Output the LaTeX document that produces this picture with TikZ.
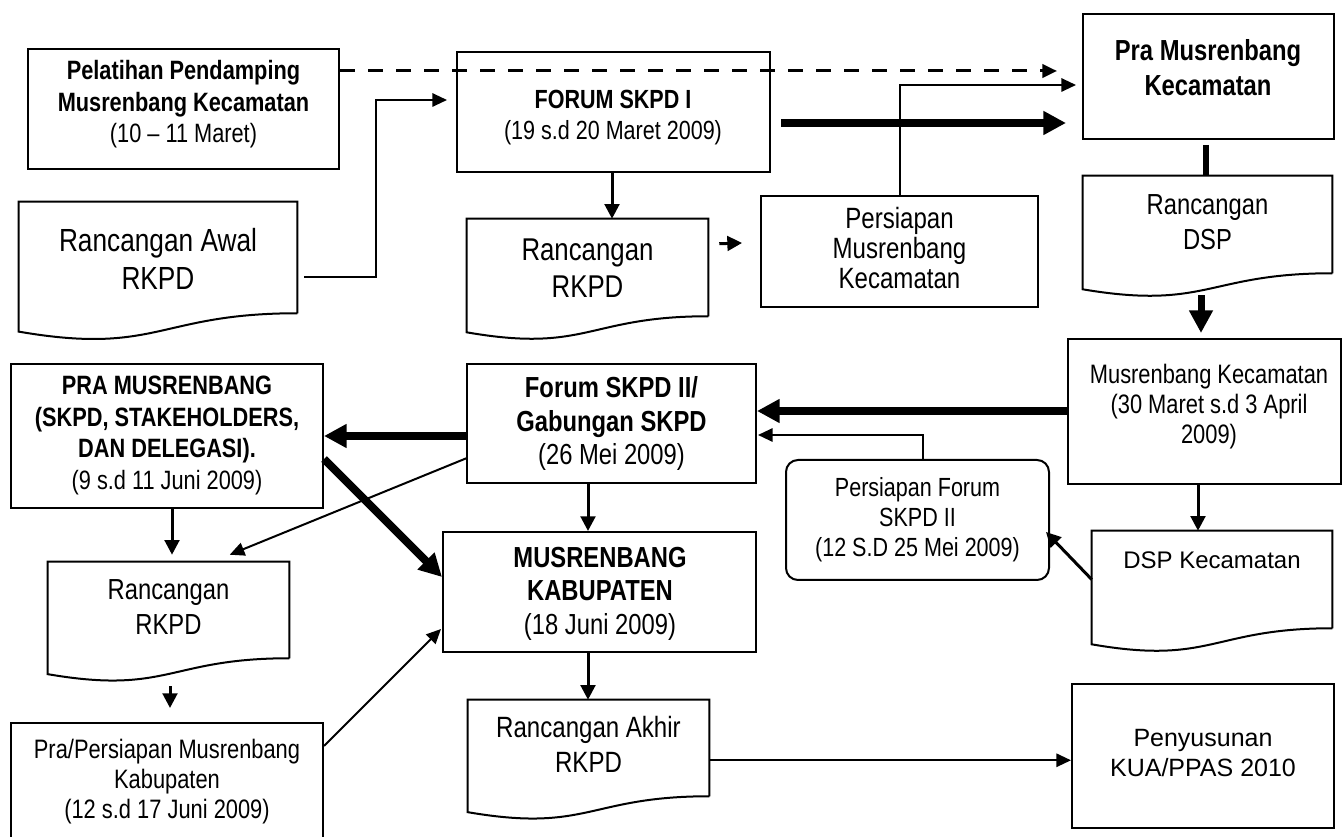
\documentclass[tikz,border=0pt]{standalone}
\usepackage{fontspec}
\setmainfont{Liberation Sans}[FakeStretch=0.82]
\newfontfamily\widefont{Liberation Sans}
\usetikzlibrary{arrows.meta,calc,fit}
\newcommand\fsz[2]{\fontsize{#1pt}{#2pt}\selectfont}
\newcommand\docpath[1]{%
  \draw[shapeline] (#1.south east) -- (#1.north east) -- (#1.north west)
    -- ($(#1.south west)!-0.1646!(#1.north west)$)
    .. controls ($(#1.south)!-0.380!(#1.north)$) and (#1.south) .. (#1.south east);}
\begin{document}
\begin{tikzpicture}[x=0.75pt,y=-0.75pt,
  shapeline/.style={line width=1.5pt,line join=miter},
  boxshape/.style={draw,line width=1.5pt,inner sep=0pt,rectangle},
  docshape/.style={inner sep=0pt,rectangle},
  txt/.style={inner sep=0pt,align=center},
  thin/.style={line width=1.5pt,-{Triangle[length=11pt,width=10pt]}},
  medium/.style={line width=2.25pt,-{Triangle[length=11pt,width=11pt]}},
  heavy/.style={line width=6pt,-{Triangle[length=17pt,width=17pt]}}]
\useasboundingbox (0,0) rectangle (1343,837);
% ---------- boxes ----------
\node[boxshape,fit={(28,49) (339,169)}] (pel) {};
\node[boxshape,fit={(457,52) (770,172)}] (forum1) {};
\node[boxshape,fit={(1083,14) (1334,139)}] (praK) {};
\node[boxshape,fit={(761,196) (1038,307)}] (persM) {};
\node[boxshape,fit={(1068,339) (1341,484)}] (musK) {};
\node[boxshape,fit={(467,364) (756,483)}] (forum2) {};
\node[boxshape,fit={(11,364) (323,508)}] (praMus) {};
\node[boxshape,rounded corners=9pt,fit={(786,460) (1049,580)}] (persF) {};
\node[boxshape,fit={(443,532) (756,652)}] (musKab) {};
\node[boxshape,fit={(11,723) (323,850)}] (praPers) {};
\node[boxshape,fit={(1072,684) (1334,828)}] (peny) {};
% ---------- documents ----------
\node[docshape,fit={(19,202) (297,313)}] (rAwal) {};
\node[docshape,fit={(467,219) (708,316)}] (rRKPD) {};
\node[docshape,fit={(1083,176) (1332,273)}] (rDSP) {};
\node[docshape,fit={(1092,531) (1332,628)}] (dspK) {};
\node[docshape,fit={(48,562) (289,658)}] (rLeft) {};
\node[docshape,fit={(468,700) (709,796)}] (rAkhir) {};
\docpath{rAwal}
\docpath{rRKPD}
\docpath{rDSP}
\docpath{dspK}
\docpath{rLeft}
\docpath{rAkhir}
% ---------- texts ----------
\node[txt,font=\fsz{19.9}{23.6}] (pelT) at (183.5,104.5) {\textbf{Pelatihan Pendamping}\\\textbf{Musrenbang Kecamatan}\\(10 – 11 Maret)};
\node[txt,font=\fsz{19.7}{23.25}] (forum1T) at (613,117.5) {\textbf{FORUM SKPD I}\\(19 s.d 20 Maret 2009)};
\node[txt,font=\fsz{21.75}{26.25}] (praKT) at (1208,67.5) {\textbf{Pra Musrenbang}\\\textbf{Kecamatan}};
\node[txt,font=\fsz{22}{22.5}] (persMT) at (899.5,248) {Persiapan\\Musrenbang\\Kecamatan};
\node[txt,font=\fsz{20}{22.5}] (musKT) at (1209,407) {Musrenbang Kecamatan\\(30 Maret s.d 3 April\\2009)};
\node[txt,font=\fsz{21.75}{25}] (forum2T) at (611.5,423.5) {\textbf{Forum SKPD II/}\\\textbf{Gabungan SKPD}\\(26 Mei 2009)};
\node[txt,font=\fsz{19.9}{23.8}] (praMusT) at (167,435.5) {\textbf{PRA MUSRENBANG}\\\textbf{(SKPD, STAKEHOLDERS,}\\\textbf{DAN DELEGASI).}\\(9 s.d 11 Juni 2009)};
\node[txt,font=\fsz{19.7}{22.5}] (persFT) at (917.5,520) {Persiapan Forum\\SKPD II\\(12 S.D 25 Mei 2009)};
\node[txt,font=\fsz{21.75}{25.1}] (musKabT) at (600,593.5) {\textbf{MUSRENBANG}\\\textbf{KABUPATEN}\\(18 Juni 2009)};
\node[txt,font=\fsz{20}{22.5}] (praPersT) at (167,782) {Pra/Persiapan Musrenbang\\Kabupaten\\(12 s.d 17 Juni 2009)};
\node[txt,font=\widefont\fsz{18.75}{22.5}] (penyT) at (1203,753) {Penyusunan\\KUA/PPAS 2010};
\node[txt,font=\fsz{24}{28.5}] (rAwalT) at (158,259) {Rancangan Awal\\RKPD};
\node[txt,font=\fsz{23.6}{27.75}] (rRKPDT) at (587.5,268.5) {Rancangan\\RKPD};
\node[txt,font=\fsz{21.75}{26.25}] (rDSPT) at (1207.5,222.5) {Rancangan\\DSP};
\node[txt,font=\widefont\fsz{18}{22}] (dspKT) at (1212,560) {DSP Kecamatan};
\node[txt,font=\fsz{21.75}{26.25}] (rLeftT) at (168.5,607.5) {Rancangan\\RKPD};
\node[txt,font=\fsz{22}{26.25}] (rAkhirT) at (588.5,744.5) {Rancangan Akhir\\RKPD};
% ---------- connectors ----------
% dashed
\coordinate (dA) at ($(pel.north east)+(0,23)$);
\coordinate (dB) at ($(praK.north west)+(-25,58)$);
\draw[line width=2.25pt,dash pattern=on 11.25pt off 9.75pt,-{Triangle[length=11pt,width=10pt]}] (dA) -- (dB);
% Rancangan Awal -> Forum I
\coordinate (bA) at ($(rAwal.south east)+(7,-36)$);
\coordinate (bT) at ($(forum1.north west)+(-80,49)$);
\coordinate (bB) at ($(forum1.north west)+(-9,49)$);
\draw[thin] (bA) -| (bT) -- (bB);
% Forum I -> Rancangan RKPD
\coordinate (cA) at ($(forum1.south)+(-1.5,0)$);
\draw[medium] (cA) -- (cA |- rRKPD.north);
% small arrow Rancangan RKPD -> Persiapan
\coordinate (eA) at ($(rRKPD.north east)+(11,25)$);
\coordinate (eB) at ($(persM.north west)+(-18,48)$);
\draw[medium] (eA) -- (eB);
% Persiapan -> Pra Musrenbang Kecamatan
\coordinate (fB) at ($(praK.north west)+(-6,72)$);
\draw[thin] (persM.north) |- (fB);
% heavy Forum I -> Pra Musrenbang Kecamatan
\coordinate (gA) at ($(forum1.north east)+(10,72)$);
\coordinate (gB) at ($(praK.north west)+(-16,110)$);
\draw[heavy] (gA) -- (gB);
% Pra Musrenbang Kecamatan -> Rancangan DSP (no head)
\coordinate (hA) at ($(praK.south)+(-2.5,5)$);
\draw[line width=4.5pt] (hA) -- (hA |- rDSP.north);
% Rancangan DSP -> Musrenbang Kecamatan
\coordinate (iA) at ($(rDSP.south)+(-6.5,22)$);
\coordinate (iB) at ($(iA |- musK.north)+(0,-5)$);
\draw[line width=5.25pt,-{Triangle[length=17pt,width=17pt]}] (iA) -- (iB);
% heavy Musrenbang Kecamatan -> Forum II
\coordinate (jA) at ($(musK.north west)+(0,73)$);
\draw[heavy] (jA) -- (jA -| forum2.east);
% Persiapan Forum -> Forum II
\coordinate (kA) at ($(persF.north)+(5.5,0)$);
\coordinate (kB) at ($(forum2.north east)+(1,72)$);
\draw[thin] (kA) |- (kB);
% Musrenbang Kecamatan -> DSP Kecamatan
\coordinate (lA) at ($(musK.south)+(-6.5,0)$);
\draw[medium] (lA) -- (lA |- dspK.north);
% DSP Kecamatan -> Persiapan Forum
\coordinate (mB) at ($(persF.north east)+(-4,73)$);
\draw[medium] (dspK.west) -- (mB);
% heavy Forum II -> PRA MUSRENBANG
\coordinate (nA) at ($(forum2.north west)+(0,73)$);
\draw[heavy] (nA) -- (nA -| praMus.east);
% heavy PRA MUSRENBANG -> MUSRENBANG KABUPATEN
\coordinate (oA) at ($(praMus.north east)+(0,96)$);
\coordinate (oB) at ($(musKab.north west)+(0,46)$);
\draw[heavy] (oA) -- (oB);
% Forum II -> Rancangan RKPD (left)
\coordinate (pA) at ($(forum2.north west)+(1,95)$);
\coordinate (pB) at ($(rLeft.north west)+(182,-7)$);
\draw[thin] (pA) -- (pB);
% PRA MUSRENBANG -> Rancangan RKPD (left)
\coordinate (qA) at ($(praMus.south)+(5,0)$);
\coordinate (qB) at ($(qA |- rLeft.north)+(0,-7)$);
\draw[medium] (qA) -- (qB);
% Rancangan RKPD (left) -> Pra/Persiapan
\coordinate (rA) at ($(rLeft.south)+(1.5,28)$);
\coordinate (rB) at ($(praPers.north)+(3,-14)$);
\draw[medium] (rA) -- (rB);
% Pra/Persiapan -> MUSRENBANG KABUPATEN
\coordinate (sA) at ($(praPers.north east)+(0,24)$);
\coordinate (sB) at ($(musKab.north west)+(-1,98)$);
\draw[thin] (sA) -- (sB);
% Forum II -> MUSRENBANG KABUPATEN
\coordinate (tA) at ($(forum2.south)+(-23.5,0)$);
\draw[medium] (tA) -- (tA |- musKab.north);
% MUSRENBANG KABUPATEN -> Rancangan Akhir
\coordinate (uA) at ($(musKab.south)+(-11.5,0)$);
\draw[medium] (uA) -- (uA |- rAkhir.north);
% Rancangan Akhir -> Penyusunan
\coordinate (vA) at ($(rAkhir.south east)+(0,-36)$);
\draw[thin] (vA) -- (vA -| peny.west);
\end{tikzpicture}
\end{document}
